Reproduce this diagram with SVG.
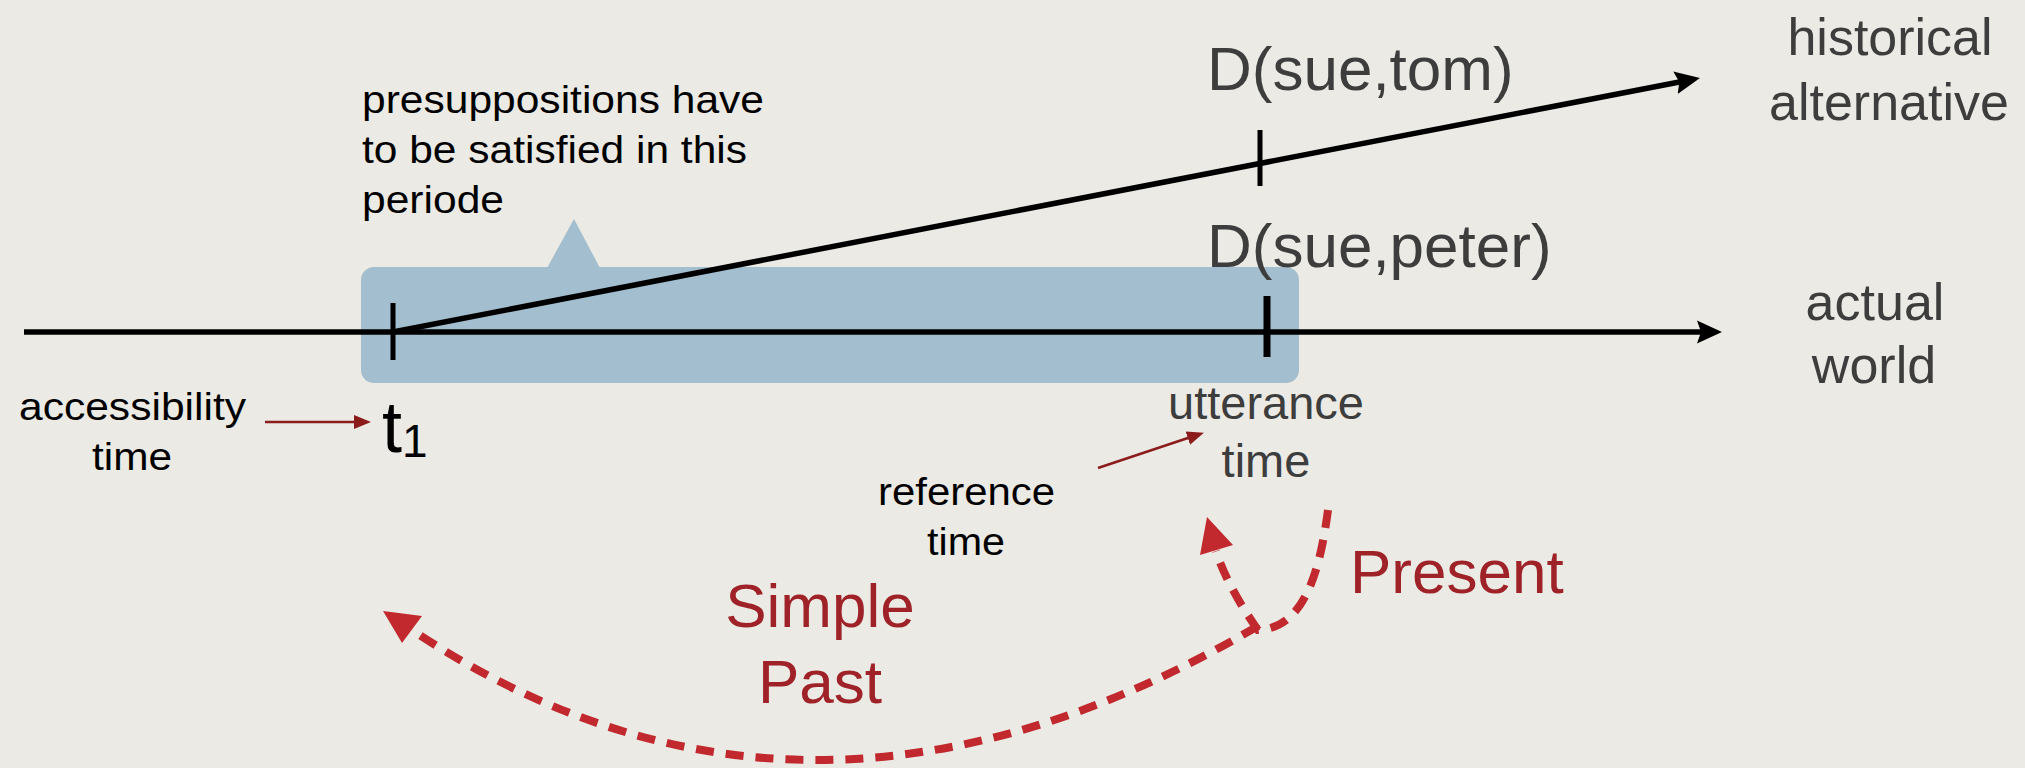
<svg xmlns="http://www.w3.org/2000/svg" width="2025" height="768" viewBox="0 0 2025 768">
<defs>
<style>
.blk{font-family:"Liberation Sans",Arial,sans-serif;fill:#000;font-size:38px}
.gry{font-family:"Liberation Sans",Arial,sans-serif;fill:#3d3d3d}
.red{font-family:"Liberation Sans",Arial,sans-serif;fill:#9e2227;font-size:62px}
.axis{stroke:#000;stroke-width:5.5;fill:none}
.tick{stroke:#000;fill:none}
.thin{stroke:#8c1c1c;stroke-width:2.5;fill:none}
.dash{stroke:#c1292e;stroke-width:8;fill:none;stroke-dasharray:18 12}
.head{fill:#c1292e}
</style>
<marker id="blackHead" markerUnits="userSpaceOnUse" markerWidth="26" markerHeight="24" viewBox="0 0 26 24" refX="8" refY="12" orient="auto">
<path d="M0,0.5 L25,12 L0,23.5 L4,12 z" fill="#000"/>
</marker>
<marker id="redHead" markerUnits="userSpaceOnUse" markerWidth="17" markerHeight="16" viewBox="0 0 17 16" refX="8" refY="8" orient="auto">
<path d="M0,1 L17,8 L0,15 z" fill="#8c1c1c"/>
</marker>
</defs>
<rect x="0" y="0" width="2025" height="768" fill="#ebeae4"/>

<g id="period-callout">
<rect x="361" y="267" width="938" height="116" rx="13" ry="13" fill="#a3bece"/>
<polygon points="547,268 574,219 600,268" fill="#a3bece"/>
</g>

<g id="connectors">
<line class="axis" x1="24" y1="332" x2="1705" y2="332" marker-end="url(#blackHead)"/>
<line class="axis" x1="393" y1="332" x2="1683.3" y2="81.2" marker-end="url(#blackHead)"/>
<line class="tick" stroke-width="5" x1="393" y1="303" x2="393" y2="360"/>
<line class="tick" stroke-width="7" x1="1267" y1="296" x2="1267" y2="357"/>
<line class="tick" stroke-width="5" x1="1260" y1="130" x2="1260" y2="186"/>
<line class="thin" x1="265" y1="422" x2="362" y2="422" marker-end="url(#redHead)"/>
<line class="thin" x1="1098" y1="468" x2="1195.4" y2="435.5" marker-end="url(#redHead)"/>
<path class="dash" d="M1258,626 Q805,892 412,630"/>
<polygon class="head" points="383,611 422,616 402,643"/>
<path class="dash" d="M1328,510 C1320,570 1305,628 1258,630 C1245,612 1225,580 1216,551"/>
<polygon class="head" points="1207,517 1233,545 1200,555"/>
</g>

<g id="label-presupposition">
<text class="blk" x="362" y="113" textLength="402" lengthAdjust="spacingAndGlyphs">presuppositions have</text>
<text class="blk" x="362" y="163" textLength="385" lengthAdjust="spacingAndGlyphs">to be satisfied in this</text>
<text class="blk" x="362" y="213" textLength="142" lengthAdjust="spacingAndGlyphs">periode</text>
</g>

<g id="label-dsuetom">
<text class="gry" x="1207" y="90" font-size="62">D(sue,tom)</text>
</g>
<g id="label-dsuepeter">
<text class="gry" x="1207" y="267" font-size="62">D(sue,peter)</text>
</g>
<g id="label-historical">
<text class="gry" x="1890" y="55" font-size="52" text-anchor="middle">historical</text>
<text class="gry" x="1889" y="120" font-size="52" text-anchor="middle">alternative</text>
</g>
<g id="label-actual">
<text class="gry" x="1875" y="320" font-size="52" text-anchor="middle">actual</text>
<text class="gry" x="1874" y="383" font-size="52" text-anchor="middle">world</text>
</g>
<g id="label-utterance">
<text class="gry" x="1266" y="419" font-size="47" text-anchor="middle">utterance</text>
<text class="gry" x="1266" y="477" font-size="47" text-anchor="middle">time</text>
</g>
<g id="label-accessibility">
<text class="blk" x="19" y="420" textLength="227" lengthAdjust="spacingAndGlyphs">accessibility</text>
<text class="blk" x="92" y="470" textLength="80" lengthAdjust="spacingAndGlyphs">time</text>
</g>
<g id="label-t1">
<text font-family="Liberation Sans, Arial, sans-serif" fill="#000" x="382" y="452" font-size="72">t<tspan font-size="46" dy="5">1</tspan></text>
</g>
<g id="label-reference">
<text class="blk" x="878" y="505" textLength="177" lengthAdjust="spacingAndGlyphs">reference</text>
<text class="blk" x="927" y="555" textLength="78" lengthAdjust="spacingAndGlyphs">time</text>
</g>
<g id="label-simplepast">
<text class="red" x="820" y="627" text-anchor="middle">Simple</text>
<text class="red" x="820" y="703" text-anchor="middle">Past</text>
</g>
<g id="label-present">
<text class="red" x="1350" y="593">Present</text>
</g>
</svg>
